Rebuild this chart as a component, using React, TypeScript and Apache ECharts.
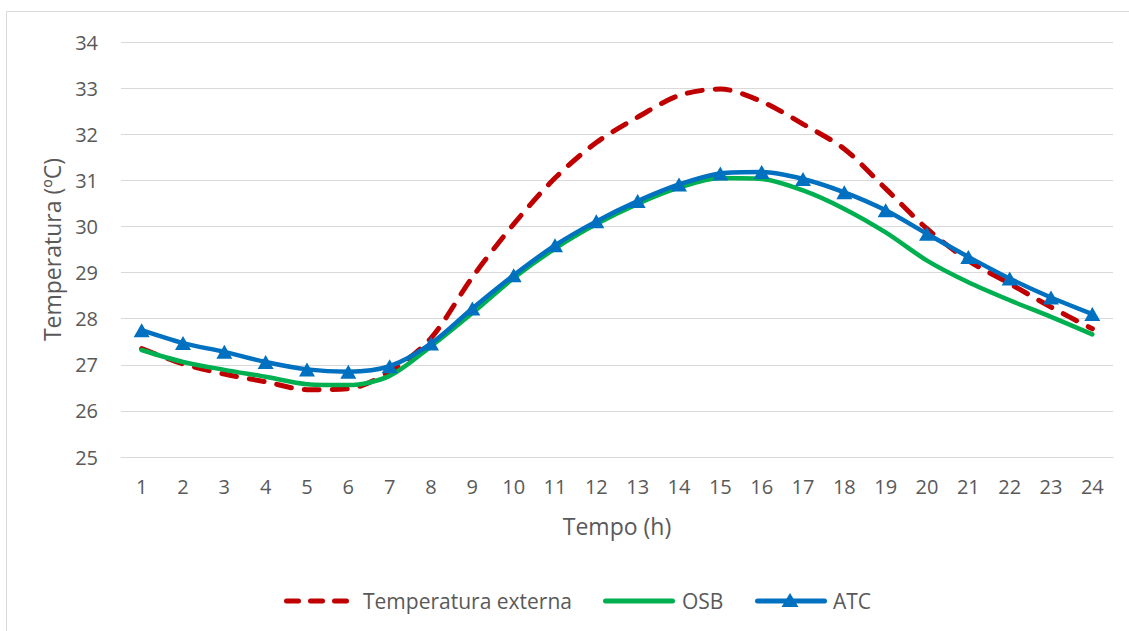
import React, { useEffect, useRef } from "react";
import * as echarts from "echarts";

const hours = ["1","2","3","4","5","6","7","8","9","10","11","12","13","14","15","16","17","18","19","20","21","22","23","24"];
const externa = [27.35, 27.02, 26.8, 26.63, 26.46, 26.48, 26.85, 27.58, 28.9, 30.05, 31.05, 31.82, 32.37, 32.84, 32.98, 32.71, 32.22, 31.68, 30.82, 29.95, 29.26, 28.76, 28.25, 27.78];
const osb = [27.32, 27.06, 26.89, 26.74, 26.58, 26.56, 26.76, 27.4, 28.12, 28.88, 29.52, 30.05, 30.49, 30.84, 31.05, 31.03, 30.78, 30.38, 29.87, 29.26, 28.79, 28.4, 28.04, 27.66];
const atc = [27.75, 27.47, 27.28, 27.06, 26.9, 26.85, 26.97, 27.46, 28.22, 28.94, 29.59, 30.11, 30.55, 30.91, 31.15, 31.18, 31.03, 30.74, 30.35, 29.84, 29.34, 28.87, 28.46, 28.1];
const seriesNames = ["Temperatura externa", "OSB", "ATC"];

const FONT = "'Open Sans', 'Noto Sans', sans-serif";
const TXT = "#595959";
const RED = "#C00000";
const GREEN = "#00B050";
const BLUE = "#0070C0";

export default function App() {
  const ref = useRef<HTMLDivElement>(null);
  useEffect(() => {
    if (!ref.current) return;
    const chart = echarts.init(ref.current, undefined, { renderer: "svg" });
    const ly = 601;
    const legendText = (x: number, t: string) => ({
      type: "text",
      x,
      y: ly,
      style: { text: t, fill: TXT, font: `21px ${FONT}`, verticalAlign: "middle" },
      silent: true,
    });
    chart.setOption({
      animation: false,
      backgroundColor: "#ffffff",
      textStyle: { fontFamily: FONT, color: TXT },
      graphic: [
        {
          type: "rect",
          shape: { x: 6.5, y: 11.5, width: 1130, height: 640 },
          style: { fill: "none", stroke: "#D9D9D9", lineWidth: 1 },
          silent: true,
        },
        {
          type: "line",
          shape: { x1: 286.5, y1: ly, x2: 347, y2: ly },
          style: { stroke: RED, lineWidth: 5, lineDash: [12, 12], lineCap: "round" },
          silent: true,
        },
        legendText(363, seriesNames[0]),
        {
          type: "line",
          shape: { x1: 605.5, y1: ly, x2: 672.5, y2: ly },
          style: { stroke: GREEN, lineWidth: 5, lineCap: "round" },
          silent: true,
        },
        legendText(682, seriesNames[1]),
        {
          type: "line",
          shape: { x1: 757.5, y1: ly, x2: 824.5, y2: ly },
          style: { stroke: BLUE, lineWidth: 5, lineCap: "round" },
          silent: true,
        },
        {
          type: "polygon",
          shape: { points: [[790, ly - 8], [798.5, ly + 6], [781.5, ly + 6]] },
          style: { fill: BLUE },
          silent: true,
        },
        legendText(833, seriesNames[2]),
      ],
      grid: { left: 121, right: 16, top: 42, bottom: 174, containLabel: false },
      xAxis: {
        type: "category",
        data: hours,
        boundaryGap: true,
        name: "Tempo (h)",
        nameLocation: "middle",
        nameGap: 57,
        nameTextStyle: { fontFamily: FONT, fontSize: 23, color: TXT },
        axisLine: { lineStyle: { color: "#D9D9D9", width: 1 } },
        axisTick: { show: false },
        axisLabel: { fontFamily: FONT, fontSize: 20, color: TXT, margin: 19 },
      },
      yAxis: {
        type: "value",
        min: 25,
        max: 34,
        interval: 1,
        name: "Temperatura (ºC)",
        nameLocation: "middle",
        nameGap: 58,
        nameTextStyle: { fontFamily: FONT, fontSize: 23, color: TXT },
        axisLine: { show: false },
        axisTick: { show: false },
        axisLabel: { fontFamily: FONT, fontSize: 20, color: TXT, margin: 23 },
        splitLine: { lineStyle: { color: "#D9D9D9", width: 1 } },
      },
      series: [
        {
          name: seriesNames[0],
          type: "line",
          data: externa,
          smooth: 0.3,
          symbol: "none",
          color: RED,
          lineStyle: { color: RED, width: 5, type: [15, 13], cap: "round" },
          z: 2,
        },
        {
          name: seriesNames[1],
          type: "line",
          data: osb,
          smooth: 0.3,
          symbol: "none",
          color: GREEN,
          lineStyle: { color: GREEN, width: 4.5, cap: "round" },
          z: 3,
        },
        {
          name: seriesNames[2],
          type: "line",
          data: atc,
          smooth: 0.3,
          symbol: "triangle",
          symbolSize: [16, 14],
          color: BLUE,
          lineStyle: { color: BLUE, width: 4.5, cap: "round" },
          itemStyle: { color: BLUE },
          z: 4,
        },
      ],
    });
    return () => chart.dispose();
  }, []);
  return (
    <div
      ref={ref}
      style={{ position: "fixed", left: 0, top: 0, width: 1129, height: 631, background: "#fff" }}
    />
  );
}
